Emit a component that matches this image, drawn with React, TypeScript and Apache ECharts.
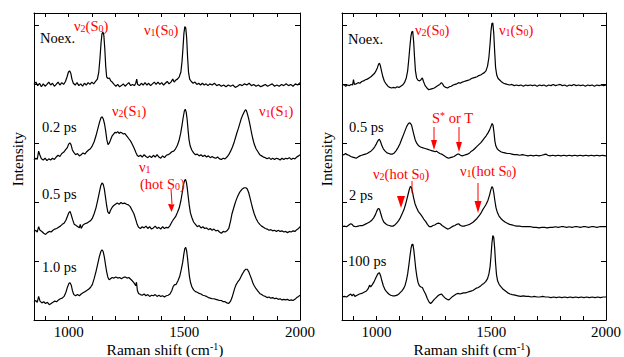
import React, { useEffect, useRef } from "react";
import * as echarts from "echarts";

const FONT = "Liberation Serif";
const RED = "#ff0000";

const xTickValues = [900, 1000, 1100, 1200, 1300, 1400, 1500, 1600, 1700, 1800, 1900];
const xLabelValues = [1000, 1500, 2000];
const yTickValues = [1, 2, 3, 4, 5];

const leftNoex = [[850,3.99],[858,4.03],[866,3.97],[874,4.01],[882,3.95],[890,4.0],[898,3.96],[906,3.99],[914,4.03],[922,3.98],[930,4.01],[938,3.96],[946,3.99],[954,4.03],[962,3.98],[970,4.02],[978,3.99],[986,4.04],[993,4.12],[999,4.2],[1004,4.22],[1009,4.18],[1014,4.08],[1020,4.01],[1028,3.98],[1036,4.02],[1044,3.97],[1052,4.0],[1060,3.96],[1068,4.01],[1076,3.98],[1084,4.02],[1092,3.99],[1100,4.03],[1108,4.0],[1116,4.04],[1124,4.08],[1130,4.2],[1135,4.42],[1140,4.7],[1144,4.85],[1148,4.88],[1152,4.82],[1156,4.6],[1160,4.3],[1164,4.12],[1170,4.09],[1176,4.1],[1182,4.05],[1188,4.03],[1196,3.99],[1204,3.96],[1212,3.99],[1220,3.95],[1228,3.97],[1236,4.0],[1244,3.96],[1252,3.99],[1260,4.02],[1268,3.97],[1276,3.99],[1284,3.97],[1290,4.01],[1294,4.08],[1298,3.99],[1306,3.97],[1314,4.01],[1322,3.98],[1330,4.02],[1338,3.98],[1346,4.01],[1354,3.97],[1362,4.0],[1370,4.03],[1378,3.99],[1386,4.03],[1394,3.99],[1402,4.02],[1410,3.98],[1418,4.01],[1426,4.04],[1434,4.0],[1442,4.03],[1450,4.08],[1456,4.03],[1462,4.06],[1470,4.08],[1478,4.12],[1485,4.2],[1490,4.38],[1494,4.6],[1498,4.85],[1502,4.97],[1506,4.95],[1510,4.78],[1514,4.45],[1518,4.2],[1523,4.08],[1530,4.04],[1538,4.01],[1546,4.03],[1554,3.99],[1562,4.01],[1570,3.98],[1578,4.01],[1586,3.98],[1594,4.0],[1602,3.97],[1610,4.0],[1620,3.98],[1630,4.01],[1640,3.97],[1650,3.99],[1660,3.96],[1670,3.98],[1680,3.95],[1690,3.98],[1700,3.96],[1710,3.98],[1720,3.94],[1730,3.96],[1740,3.99],[1750,3.97],[1760,4.0],[1770,3.98],[1780,4.01],[1790,3.97],[1800,3.99],[1810,3.96],[1820,3.98],[1830,3.95],[1840,3.97],[1850,3.99],[1860,3.96],[1870,3.98],[1880,4.0],[1890,3.96],[1900,3.98],[1910,3.96],[1920,3.99],[1930,3.97],[1940,4.0],[1950,3.97],[1960,3.99],[1970,3.96],[1980,4.0],[1990,3.98],[2000,4.02]];

const left02ps = [[850,2.71],[858,2.74],[864,2.72],[870,2.86],[875,2.8],[882,2.73],[890,2.71],[898,2.74],[906,2.7],[914,2.73],[922,2.71],[930,2.74],[938,2.72],[946,2.76],[954,2.79],[962,2.77],[970,2.82],[978,2.84],[986,2.88],[994,2.92],[1000,2.98],[1005,3.0],[1010,2.97],[1016,2.88],[1022,2.84],[1030,2.8],[1038,2.82],[1046,2.78],[1054,2.8],[1062,2.83],[1070,2.81],[1078,2.85],[1086,2.88],[1094,2.9],[1102,2.95],[1110,3.02],[1118,3.12],[1126,3.24],[1134,3.36],[1140,3.43],[1145,3.44],[1150,3.4],[1155,3.32],[1160,3.2],[1165,3.05],[1170,2.97],[1176,3.0],[1182,3.06],[1188,3.12],[1194,3.15],[1200,3.18],[1206,3.17],[1212,3.19],[1218,3.16],[1224,3.18],[1230,3.17],[1236,3.15],[1242,3.16],[1248,3.13],[1254,3.1],[1260,3.07],[1266,3.04],[1272,3.0],[1278,2.95],[1284,2.9],[1290,2.84],[1296,2.79],[1302,2.77],[1310,2.79],[1318,2.76],[1326,2.8],[1334,2.77],[1342,2.75],[1350,2.78],[1358,2.75],[1366,2.79],[1374,2.76],[1382,2.8],[1390,2.76],[1398,2.74],[1406,2.78],[1414,2.75],[1422,2.79],[1430,2.8],[1438,2.82],[1446,2.85],[1454,2.86],[1462,2.9],[1470,2.96],[1477,3.04],[1484,3.16],[1490,3.3],[1495,3.43],[1500,3.54],[1504,3.57],[1508,3.52],[1512,3.4],[1516,3.22],[1520,3.06],[1525,2.95],[1532,2.88],[1540,2.83],[1548,2.8],[1556,2.81],[1564,2.78],[1572,2.8],[1580,2.77],[1588,2.79],[1596,2.76],[1604,2.78],[1612,2.75],[1620,2.77],[1628,2.75],[1636,2.74],[1644,2.76],[1652,2.73],[1660,2.72],[1668,2.74],[1676,2.73],[1684,2.76],[1692,2.8],[1700,2.86],[1708,2.93],[1716,3.02],[1722,3.1],[1728,3.18],[1734,3.25],[1740,3.33],[1746,3.41],[1752,3.47],[1758,3.52],[1764,3.56],[1768,3.55],[1772,3.5],[1778,3.41],[1784,3.3],[1790,3.18],[1796,3.07],[1802,2.98],[1810,2.9],[1818,2.85],[1826,2.8],[1834,2.78],[1842,2.76],[1850,2.75],[1858,2.73],[1866,2.75],[1874,2.72],[1882,2.74],[1890,2.72],[1898,2.74],[1906,2.73],[1914,2.71],[1922,2.74],[1930,2.72],[1938,2.74],[1946,2.73],[1954,2.75],[1962,2.72],[1970,2.74],[1978,2.73],[1986,2.76],[1994,2.78],[2000,2.8]];

const left05ps = [[850,1.5],[858,1.52],[864,1.49],[870,1.58],[876,1.52],[884,1.5],[892,1.47],[900,1.45],[908,1.48],[916,1.5],[924,1.49],[932,1.52],[940,1.54],[948,1.55],[956,1.57],[964,1.59],[972,1.62],[980,1.64],[988,1.69],[995,1.76],[1001,1.82],[1006,1.84],[1011,1.78],[1017,1.7],[1024,1.62],[1032,1.6],[1040,1.58],[1046,1.56],[1050,1.62],[1054,1.55],[1062,1.61],[1070,1.63],[1078,1.64],[1086,1.66],[1094,1.68],[1102,1.72],[1110,1.8],[1118,1.9],[1126,2.04],[1133,2.17],[1139,2.28],[1144,2.32],[1149,2.3],[1154,2.22],[1159,2.08],[1164,1.94],[1169,1.83],[1175,1.8],[1181,1.86],[1188,1.91],[1195,1.94],[1202,1.96],[1210,1.98],[1218,1.96],[1226,1.99],[1234,1.97],[1242,1.98],[1250,1.96],[1258,1.95],[1266,1.92],[1274,1.86],[1282,1.8],[1290,1.7],[1296,1.62],[1302,1.57],[1310,1.55],[1318,1.58],[1326,1.56],[1334,1.59],[1342,1.55],[1350,1.58],[1358,1.54],[1366,1.56],[1374,1.59],[1382,1.55],[1390,1.57],[1398,1.54],[1406,1.58],[1414,1.55],[1422,1.57],[1430,1.56],[1438,1.6],[1446,1.66],[1454,1.71],[1462,1.75],[1470,1.82],[1478,1.9],[1485,2.02],[1491,2.16],[1496,2.29],[1501,2.36],[1505,2.38],[1509,2.33],[1513,2.22],[1517,2.08],[1521,1.95],[1526,1.82],[1532,1.74],[1540,1.66],[1548,1.62],[1556,1.58],[1564,1.6],[1572,1.56],[1580,1.58],[1588,1.55],[1596,1.56],[1604,1.53],[1612,1.55],[1620,1.52],[1628,1.54],[1636,1.51],[1644,1.52],[1652,1.49],[1660,1.47],[1668,1.5],[1676,1.49],[1684,1.51],[1692,1.55],[1700,1.68],[1706,1.8],[1712,1.88],[1718,1.96],[1724,2.03],[1730,2.09],[1736,2.14],[1742,2.18],[1748,2.21],[1754,2.23],[1760,2.24],[1766,2.24],[1772,2.22],[1778,2.16],[1784,2.07],[1790,1.97],[1796,1.88],[1802,1.8],[1810,1.72],[1818,1.66],[1826,1.62],[1834,1.59],[1842,1.57],[1850,1.55],[1858,1.54],[1866,1.52],[1874,1.53],[1882,1.51],[1890,1.52],[1898,1.5],[1906,1.52],[1914,1.5],[1922,1.51],[1930,1.49],[1938,1.5],[1946,1.48],[1954,1.5],[1962,1.49],[1970,1.51],[1978,1.5],[1986,1.53],[1994,1.55],[2000,1.58]];

const left10ps = [[850,0.31],[858,0.33],[864,0.3],[870,0.4],[876,0.32],[884,0.29],[892,0.31],[900,0.28],[908,0.3],[916,0.26],[924,0.28],[932,0.3],[940,0.32],[948,0.31],[956,0.34],[964,0.36],[972,0.37],[980,0.4],[988,0.47],[995,0.56],[1001,0.62],[1006,0.63],[1011,0.59],[1016,0.5],[1022,0.43],[1030,0.41],[1038,0.43],[1046,0.41],[1054,0.44],[1062,0.46],[1070,0.48],[1078,0.5],[1086,0.52],[1094,0.55],[1102,0.6],[1110,0.7],[1118,0.82],[1126,0.96],[1133,1.08],[1139,1.16],[1144,1.19],[1149,1.16],[1154,1.07],[1159,0.94],[1164,0.82],[1169,0.73],[1175,0.68],[1181,0.7],[1188,0.72],[1196,0.71],[1204,0.73],[1212,0.71],[1220,0.72],[1228,0.7],[1236,0.72],[1244,0.73],[1252,0.71],[1260,0.72],[1268,0.69],[1276,0.66],[1284,0.62],[1290,0.58],[1293,0.64],[1297,0.5],[1302,0.45],[1310,0.43],[1318,0.42],[1326,0.44],[1334,0.41],[1342,0.43],[1350,0.4],[1358,0.42],[1366,0.41],[1374,0.43],[1382,0.4],[1390,0.42],[1398,0.4],[1406,0.41],[1414,0.39],[1422,0.41],[1430,0.42],[1438,0.44],[1446,0.5],[1452,0.57],[1458,0.6],[1464,0.6],[1472,0.66],[1480,0.74],[1487,0.86],[1493,0.98],[1498,1.12],[1502,1.21],[1506,1.23],[1510,1.17],[1514,1.04],[1518,0.88],[1522,0.74],[1527,0.63],[1533,0.56],[1540,0.51],[1548,0.48],[1556,0.47],[1564,0.45],[1572,0.44],[1580,0.42],[1588,0.41],[1596,0.4],[1604,0.38],[1612,0.37],[1620,0.36],[1628,0.36],[1636,0.35],[1644,0.34],[1652,0.33],[1660,0.33],[1668,0.31],[1676,0.31],[1684,0.29],[1692,0.28],[1700,0.32],[1706,0.38],[1712,0.46],[1718,0.54],[1724,0.6],[1730,0.64],[1736,0.67],[1742,0.71],[1748,0.76],[1754,0.8],[1760,0.84],[1766,0.86],[1772,0.86],[1778,0.82],[1784,0.76],[1790,0.7],[1796,0.63],[1802,0.58],[1810,0.53],[1818,0.49],[1826,0.45],[1834,0.43],[1842,0.41],[1850,0.4],[1858,0.38],[1866,0.39],[1874,0.37],[1882,0.38],[1890,0.36],[1898,0.37],[1906,0.35],[1914,0.36],[1922,0.34],[1930,0.35],[1938,0.34],[1946,0.35],[1954,0.33],[1962,0.34],[1970,0.33],[1978,0.35],[1986,0.38],[1994,0.4],[2000,0.42]];

const rightNoex = [[850,3.97],[858,3.99],[866,3.96],[874,3.98],[882,3.97],[890,3.99],[896,3.98],[900,4.07],[904,3.99],[912,4.0],[920,4.02],[928,4.01],[936,4.04],[944,4.05],[952,4.07],[960,4.08],[968,4.1],[976,4.12],[984,4.15],[992,4.18],[998,4.22],[1004,4.27],[1009,4.33],[1013,4.35],[1017,4.31],[1022,4.22],[1028,4.12],[1035,4.04],[1042,4.0],[1050,3.96],[1058,3.94],[1066,3.93],[1074,3.94],[1082,3.93],[1090,3.95],[1098,3.94],[1106,3.96],[1114,3.98],[1122,4.02],[1130,4.1],[1136,4.22],[1141,4.42],[1146,4.64],[1150,4.8],[1154,4.88],[1158,4.89],[1162,4.72],[1166,4.45],[1170,4.22],[1175,4.1],[1181,4.06],[1188,4.05],[1194,4.07],[1200,4.1],[1205,4.04],[1212,3.97],[1220,3.93],[1228,3.9],[1236,3.91],[1244,3.92],[1252,3.93],[1260,3.95],[1268,3.97],[1276,3.99],[1283,4.02],[1288,4.0],[1294,3.96],[1302,3.94],[1310,3.93],[1318,3.95],[1326,3.96],[1334,3.98],[1342,3.99],[1350,4.0],[1358,4.02],[1366,4.01],[1374,4.03],[1382,4.04],[1390,4.05],[1398,4.06],[1406,4.07],[1414,4.09],[1422,4.1],[1430,4.11],[1438,4.12],[1446,4.14],[1454,4.15],[1462,4.17],[1470,4.19],[1477,4.22],[1484,4.3],[1490,4.45],[1495,4.68],[1499,4.9],[1503,5.02],[1507,5.03],[1511,4.86],[1515,4.55],[1519,4.28],[1524,4.15],[1530,4.09],[1538,4.06],[1546,4.03],[1554,4.01],[1562,4.0],[1570,3.99],[1580,3.98],[1590,3.99],[1600,3.97],[1610,3.98],[1620,3.97],[1630,3.98],[1640,3.96],[1650,3.98],[1660,3.97],[1670,3.98],[1680,3.97],[1690,3.98],[1700,3.96],[1710,3.98],[1720,3.97],[1730,3.98],[1740,3.96],[1750,3.98],[1760,3.97],[1770,3.99],[1780,3.97],[1790,3.98],[1800,3.99],[1810,3.97],[1820,3.98],[1830,3.96],[1840,3.98],[1850,3.97],[1860,3.99],[1870,3.97],[1880,3.98],[1890,3.97],[1900,3.98],[1910,3.96],[1920,3.98],[1930,3.97],[1940,3.98],[1950,3.96],[1960,3.98],[1970,3.97],[1980,3.98],[1990,3.97],[2000,3.98]];

const right05ps = [[850,2.79],[858,2.8],[866,2.82],[872,2.8],[880,2.79],[888,2.77],[896,2.76],[904,2.75],[912,2.74],[920,2.76],[928,2.78],[936,2.79],[944,2.8],[952,2.81],[960,2.82],[968,2.84],[976,2.86],[984,2.89],[992,2.93],[998,2.97],[1004,3.02],[1009,3.05],[1013,3.06],[1018,3.02],[1024,2.95],[1030,2.9],[1038,2.86],[1046,2.83],[1054,2.82],[1062,2.81],[1070,2.81],[1078,2.83],[1086,2.87],[1094,2.92],[1102,2.98],[1110,3.06],[1118,3.14],[1126,3.22],[1132,3.28],[1138,3.32],[1143,3.34],[1148,3.33],[1153,3.3],[1158,3.22],[1163,3.14],[1169,3.05],[1176,2.99],[1184,2.95],[1192,2.93],[1200,2.92],[1208,2.91],[1216,2.9],[1224,2.89],[1232,2.88],[1240,2.87],[1248,2.86],[1256,2.85],[1262,2.86],[1268,2.84],[1276,2.82],[1284,2.81],[1292,2.79],[1300,2.77],[1308,2.75],[1314,2.74],[1322,2.75],[1330,2.76],[1338,2.77],[1346,2.79],[1354,2.81],[1360,2.81],[1366,2.79],[1374,2.78],[1382,2.79],[1390,2.8],[1398,2.81],[1406,2.83],[1414,2.86],[1422,2.88],[1430,2.91],[1438,2.94],[1446,2.97],[1454,3.0],[1462,3.04],[1470,3.08],[1478,3.12],[1486,3.17],[1493,3.22],[1499,3.28],[1504,3.33],[1508,3.3],[1512,3.18],[1516,3.03],[1520,2.95],[1526,2.9],[1534,2.87],[1542,2.85],[1550,2.84],[1560,2.83],[1570,2.82],[1580,2.82],[1590,2.81],[1600,2.8],[1612,2.8],[1624,2.79],[1636,2.8],[1648,2.79],[1660,2.78],[1672,2.79],[1684,2.78],[1696,2.79],[1708,2.78],[1720,2.79],[1730,2.8],[1738,2.81],[1746,2.79],[1756,2.78],[1768,2.79],[1780,2.78],[1792,2.79],[1804,2.78],[1816,2.79],[1828,2.78],[1840,2.79],[1852,2.78],[1864,2.79],[1876,2.78],[1888,2.79],[1900,2.78],[1912,2.79],[1924,2.78],[1936,2.79],[1948,2.78],[1960,2.79],[1972,2.78],[1984,2.79],[2000,2.78]];

const right2ps = [[850,1.58],[860,1.59],[870,1.58],[880,1.61],[888,1.63],[894,1.62],[900,1.59],[910,1.58],[920,1.59],[930,1.6],[940,1.6],[950,1.62],[960,1.64],[970,1.66],[980,1.69],[988,1.73],[995,1.78],[1001,1.84],[1006,1.88],[1010,1.89],[1014,1.87],[1019,1.8],[1025,1.72],[1032,1.66],[1040,1.63],[1048,1.61],[1056,1.6],[1064,1.59],[1072,1.59],[1080,1.61],[1088,1.64],[1096,1.68],[1104,1.73],[1112,1.8],[1120,1.87],[1127,1.96],[1133,2.05],[1138,2.13],[1143,2.21],[1148,2.26],[1152,2.25],[1157,2.17],[1162,2.07],[1168,1.97],[1175,1.9],[1182,1.84],[1190,1.8],[1198,1.76],[1206,1.71],[1214,1.67],[1222,1.62],[1230,1.58],[1238,1.58],[1246,1.6],[1254,1.61],[1262,1.63],[1270,1.64],[1278,1.63],[1286,1.6],[1294,1.58],[1302,1.56],[1310,1.54],[1318,1.55],[1326,1.57],[1334,1.59],[1342,1.6],[1350,1.62],[1358,1.63],[1366,1.6],[1374,1.59],[1382,1.59],[1390,1.6],[1398,1.61],[1406,1.62],[1414,1.64],[1422,1.66],[1430,1.69],[1438,1.72],[1446,1.76],[1454,1.8],[1462,1.86],[1470,1.91],[1478,1.96],[1486,2.03],[1493,2.12],[1498,2.2],[1503,2.26],[1507,2.24],[1511,2.16],[1516,2.02],[1521,1.9],[1527,1.82],[1534,1.76],[1542,1.72],[1550,1.69],[1560,1.66],[1570,1.64],[1580,1.62],[1590,1.61],[1600,1.6],[1612,1.59],[1624,1.59],[1636,1.58],[1648,1.58],[1660,1.58],[1672,1.58],[1684,1.57],[1696,1.57],[1708,1.56],[1720,1.57],[1732,1.57],[1744,1.56],[1756,1.57],[1768,1.57],[1780,1.58],[1792,1.57],[1804,1.58],[1816,1.58],[1828,1.57],[1840,1.58],[1852,1.57],[1864,1.58],[1876,1.58],[1888,1.57],[1900,1.58],[1912,1.58],[1924,1.57],[1936,1.58],[1948,1.58],[1960,1.57],[1972,1.58],[1984,1.58],[2000,1.58]];

const right100ps = [[850,0.39],[860,0.4],[870,0.39],[880,0.42],[888,0.44],[894,0.41],[900,0.44],[906,0.4],[916,0.42],[926,0.44],[936,0.45],[946,0.47],[956,0.49],[964,0.53],[970,0.59],[975,0.56],[982,0.6],[990,0.65],[997,0.71],[1003,0.76],[1008,0.79],[1013,0.8],[1018,0.75],[1024,0.66],[1030,0.58],[1038,0.51],[1046,0.47],[1054,0.44],[1062,0.42],[1070,0.41],[1080,0.41],[1090,0.42],[1100,0.45],[1110,0.49],[1118,0.53],[1125,0.59],[1131,0.68],[1136,0.78],[1141,0.92],[1146,1.08],[1151,1.22],[1155,1.28],[1159,1.28],[1163,1.18],[1167,1.03],[1171,0.88],[1176,0.74],[1181,0.64],[1187,0.58],[1194,0.56],[1200,0.55],[1206,0.5],[1214,0.44],[1222,0.36],[1230,0.3],[1236,0.28],[1244,0.31],[1252,0.35],[1260,0.38],[1268,0.41],[1276,0.43],[1284,0.44],[1292,0.4],[1300,0.37],[1308,0.35],[1316,0.34],[1324,0.37],[1332,0.4],[1340,0.42],[1348,0.44],[1356,0.45],[1364,0.44],[1372,0.45],[1380,0.46],[1388,0.46],[1396,0.47],[1404,0.48],[1412,0.49],[1420,0.5],[1428,0.52],[1436,0.54],[1444,0.55],[1452,0.57],[1460,0.6],[1468,0.62],[1476,0.65],[1484,0.7],[1490,0.78],[1495,0.9],[1499,1.08],[1503,1.3],[1507,1.43],[1511,1.4],[1515,1.22],[1519,0.96],[1523,0.77],[1528,0.66],[1535,0.6],[1543,0.56],[1552,0.52],[1562,0.49],[1572,0.46],[1582,0.44],[1592,0.43],[1604,0.42],[1616,0.41],[1628,0.4],[1640,0.41],[1652,0.4],[1664,0.4],[1676,0.39],[1688,0.4],[1700,0.39],[1712,0.39],[1724,0.4],[1736,0.39],[1748,0.39],[1760,0.38],[1772,0.39],[1784,0.38],[1796,0.39],[1808,0.38],[1820,0.39],[1832,0.38],[1844,0.39],[1856,0.38],[1868,0.39],[1880,0.38],[1892,0.39],[1904,0.38],[1916,0.39],[1928,0.38],[1940,0.39],[1952,0.38],[1964,0.39],[1976,0.38],[1988,0.39],[2000,0.39]];

const leftTraces = [leftNoex, left02ps, left05ps, left10ps];
const rightTraces = [rightNoex, right05ps, right2ps, right100ps];
const leftTraceNames = ["Noex.", "0.2 ps", "0.5 ps", "1.0 ps"];
const rightTraceNames = ["Noex.", "0.5 ps", "2 ps", "100 ps"];

function richStyles(color: string, size: number) {
  return {
    n: { fontSize: size, fontFamily: FONT, fill: color, color, lineHeight: 15, verticalAlign: "top" },
    s: { fontSize: 10, fontFamily: FONT, fill: color, color, lineHeight: 10, verticalAlign: "bottom" },
    p: { fontSize: 10, fontFamily: FONT, fill: color, color, lineHeight: 10, verticalAlign: "top" },
  };
}

function rtext(x: number, y: number, text: string, color: string, align = "left", size = 14.5) {
  return {
    type: "text",
    x,
    y,
    z: 20,
    style: {
      text,
      rich: richStyles(color, size),
      fill: color,
      fontSize: size,
      fontFamily: FONT,
      align,
      verticalAlign: "middle",
      textAlign: align,
      textVerticalAlign: "middle",
    },
  };
}

function ptext(x: number, y: number, text: string) {
  return {
    type: "text",
    x,
    y,
    z: 20,
    style: {
      text,
      fill: "#000",
      fontSize: 14.5,
      fontFamily: FONT,
      align: "left",
      verticalAlign: "middle",
      textAlign: "left",
      textVerticalAlign: "middle",
    },
  };
}

function vtext(x: number, y: number, text: string) {
  return {
    type: "text",
    x,
    y,
    rotation: Math.PI / 2,
    z: 20,
    style: { text, fill: "#000", fontSize: 15.5, fontFamily: FONT, align: "center", verticalAlign: "middle", textAlign: "center", textVerticalAlign: "middle" },
  };
}

function redLine(x1: number, y1: number, x2: number, y2: number) {
  return { type: "line", z: 20, shape: { x1, y1, x2, y2 }, style: { stroke: RED, lineWidth: 1 } };
}

function redHead(points: number[][]) {
  return { type: "polygon", z: 20, shape: { points }, style: { fill: RED } };
}

export default function App() {
  const ref = useRef<HTMLDivElement>(null);

  useEffect(() => {
    if (!ref.current) return;
    const chart = echarts.init(ref.current, undefined, { renderer: "svg" });

    const grids = [
      { left: 34, top: 13, width: 266, height: 307 },
      { left: 342, top: 13, width: 264, height: 307 },
    ];

    const xAxes: any[] = [];
    const yAxes: any[] = [];
    [0, 1].forEach((g) => {
      ["bottom", "top"].forEach((pos) => {
        xAxes.push({
          type: "value",
          gridIndex: g,
          position: pos,
          min: 850,
          max: 2000,
          axisLine: { show: true, onZero: false, lineStyle: { color: "#000", width: 1 } },
          axisTick: { show: true, inside: true, length: 4, customValues: xTickValues, lineStyle: { color: "#000", width: 1 } },
          axisLabel: {
            show: pos === "bottom",
            customValues: xLabelValues,
            formatter: (v: number) => String(v),
            color: "#000",
            fontSize: 15,
            fontFamily: FONT,
            margin: 4,
          },
          splitLine: { show: false },
        });
      });
      ["left", "right"].forEach((pos) => {
        yAxes.push({
          type: "value",
          gridIndex: g,
          position: pos,
          min: 0,
          max: 5.2,
          axisLine: { show: true, onZero: false, lineStyle: { color: "#000", width: 1 } },
          axisTick: { show: true, inside: true, length: 5, customValues: yTickValues, lineStyle: { color: "#000", width: 1 } },
          axisLabel: { show: false },
          splitLine: { show: false },
        });
      });
    });

    const series: any[] = [];
    leftTraces.forEach((d, i) => {
      series.push({
        type: "line",
        name: "L " + leftTraceNames[i],
        xAxisIndex: 0,
        yAxisIndex: 0,
        data: d,
        showSymbol: false,
        symbol: "none",
        silent: true,
        lineStyle: { color: "#000", width: 1.2 },
      });
    });
    rightTraces.forEach((d, i) => {
      series.push({
        type: "line",
        name: "R " + rightTraceNames[i],
        xAxisIndex: 2,
        yAxisIndex: 2,
        data: d,
        showSymbol: false,
        symbol: "none",
        silent: true,
        lineStyle: { color: "#000", width: 1.2 },
      });
    });

    const graphic: any[] = [
      // trace labels
      ptext(40, 38, leftTraceNames[0]),
      ptext(42, 127, leftTraceNames[1]),
      ptext(42, 194, leftTraceNames[2]),
      ptext(42, 267, leftTraceNames[3]),
      ptext(348, 39, rightTraceNames[0]),
      ptext(349, 127, rightTraceNames[1]),
      ptext(349, 195, rightTraceNames[2]),
      ptext(348, 261, rightTraceNames[3]),
      // left red labels
      rtext(74, 26, "{n|ν}{s|2}{n|(S}{s|0}{n|)}", RED),
      rtext(144, 30, "{n|ν}{s|1}{n|(S}{s|0}{n|)}", RED),
      rtext(112, 111, "{n|ν}{s|2}{n|(S}{s|1}{n|)}", RED),
      rtext(259, 111, "{n|ν}{s|1}{n|(S}{s|1}{n|)}", RED),
      rtext(139, 167, "{n|ν}{s|1}", RED),
      rtext(140, 184, "{n|(hot S}{s|0}{n|)}", RED),
      redLine(171, 189, 172, 204),
      redHead([[168, 204], [174.5, 204.5], [171.5, 212]]),
      // right red labels
      rtext(415, 30, "{n|ν}{s|2}{n|(S}{s|0}{n|)}", RED),
      rtext(499, 30, "{n|ν}{s|1}{n|(S}{s|0}{n|)}", RED),
      rtext(432, 118, "{n|S}{p|*}{n| or T}", RED),
      redLine(434, 127, 434, 142),
      redHead([[431, 140], [437, 140], [434, 150]]),
      redLine(459, 127, 459, 144),
      redHead([[456, 142], [462, 142], [459, 152]]),
      rtext(373, 174, "{n|ν}{s|2}{n|(hot S}{s|0}{n|)}", RED),
      redLine(412, 181, 412, 193),
      redHead([[397, 196], [405, 196], [401, 208]]),
      rtext(460, 171, "{n|ν}{s|1}{n|(hot S}{s|0}{n|)}", RED),
      redLine(478, 183, 478, 203),
      redHead([[474.5, 201], [481.5, 201], [478, 213]]),
      // axis titles
      rtext(165, 349, "{n|Raman shift (cm}{p|-1}{n|)}", "#000", "center", 15.5),
      rtext(472, 349, "{n|Raman shift (cm}{p|-1}{n|)}", "#000", "center", 15.5),
      vtext(17, 159, "Intensity"),
      vtext(326, 159, "Intensity"),
    ];

    chart.setOption({
      animation: false,
      backgroundColor: "#fff",
      grid: grids,
      xAxis: xAxes,
      yAxis: yAxes,
      series,
      graphic,
    });

    return () => chart.dispose();
  }, []);

  return <div ref={ref} style={{ position: "absolute", left: 0, top: 0, width: 624, height: 357 }} />;
}
